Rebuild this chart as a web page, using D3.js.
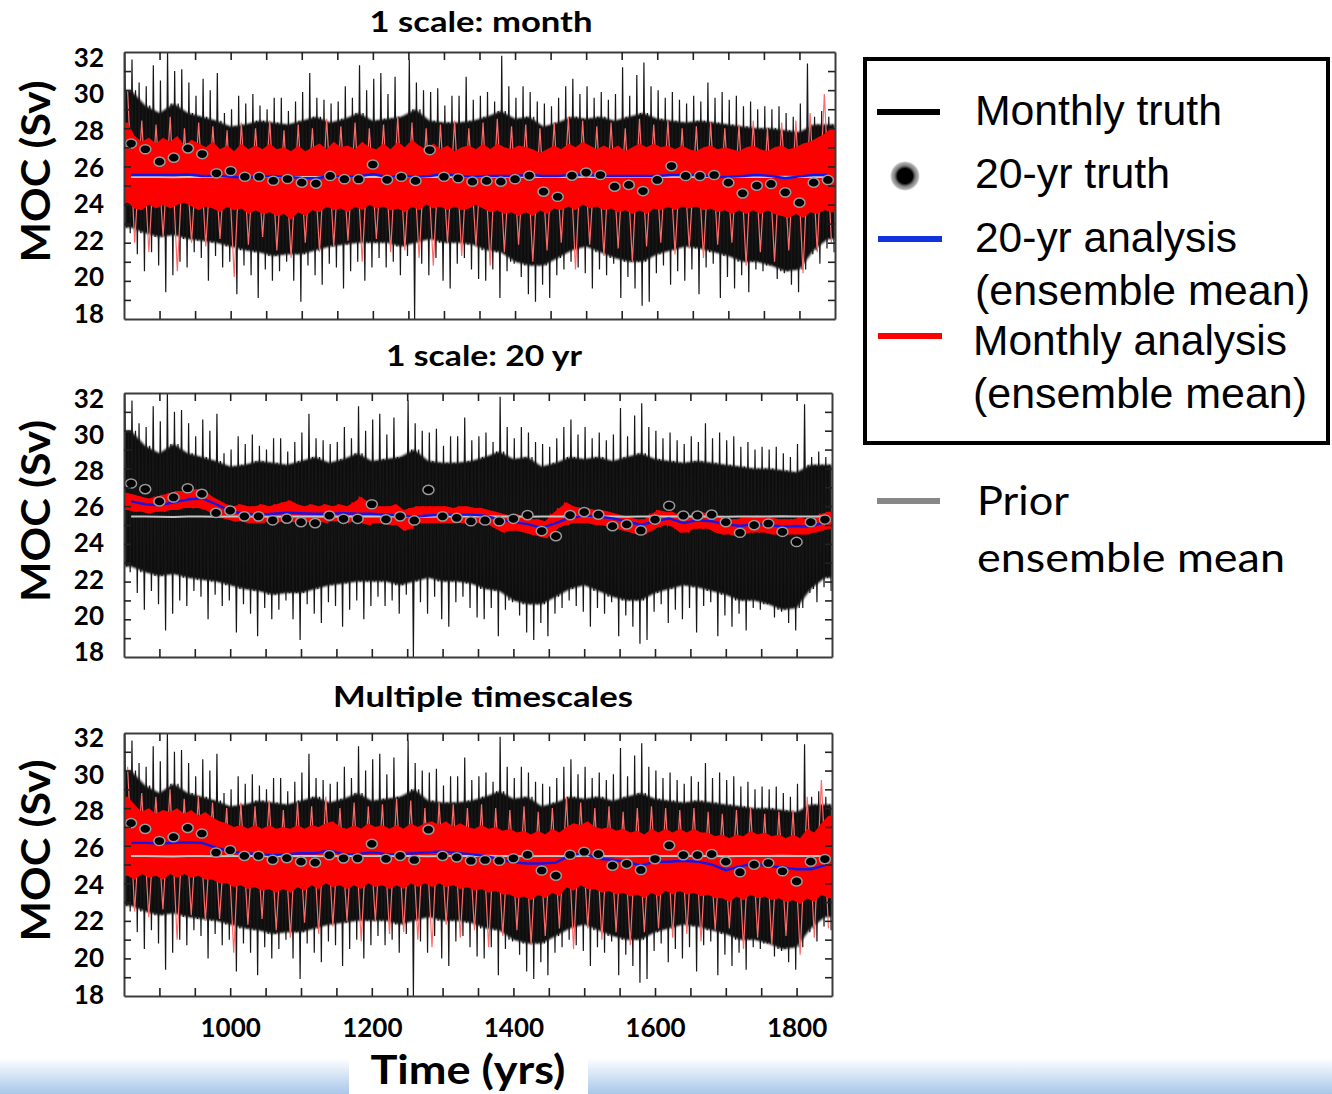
<!DOCTYPE html>
<html>
<head>
<meta charset="utf-8">
<script src="https://cdn.jsdelivr.net/npm/d3@7"></script>
<style>
body { margin: 0; background: #fff; }
</style>
</head>
<body>
<script>
// ---- data (MOC in Sv) ----
// centres of the 20-yr windows and of the decades
var windowYears = d3.range(860, 1841, 20)
var decadeYears = d3.range(855, 1846, 10)

// 20-yr truth (dots), same in every panel
var truth20 = [27.2, 26.9, 26.25, 26.46, 26.95, 26.65, 25.64, 25.76, 25.46, 25.46,
  25.25, 25.34, 25.15, 25.1, 25.5, 25.33, 25.33, 26.1, 25.3, 25.46,
  25.24, 26.86, 25.46, 25.38, 25.2, 25.24, 25.2, 25.33, 25.52, 24.68,
  24.41, 25.52, 25.68, 25.55, 24.94, 25.03, 24.71, 25.29, 26.02, 25.5,
  25.5, 25.55, 25.15, 24.59, 24.99, 25.08, 24.64, 24.1, 25.15, 25.29]

// monthly truth: decadal high and low, and the dense 20-yr range
var truthHi = [32.0, 31.6, 30.4, 30.2, 31.3, 30.5, 32.0, 31.0, 31.1, 30.4,
  29.7, 30.6, 30.0, 30.9, 28.8, 29.0, 29.7, 29.3, 29.8, 29.2,
  29.0, 29.6, 29.6, 28.9, 29.4, 29.9, 30.9, 29.6, 29.5, 29.3,
  29.4, 30.2, 29.6, 31.3, 30.0, 30.6, 30.9, 29.8, 30.7, 28.6,
  31.6, 30.4, 30.0, 29.9, 30.1, 29.2, 29.7, 29.7, 30.7, 29.5,
  29.7, 29.9, 29.4, 31.8, 30.2, 29.6, 30.2, 29.9, 29.4, 29.3,
  29.15, 29.6, 30.2, 30.6, 29.8, 30.2, 29.6, 29.9, 29.5, 29.8,
  31.2, 29.7, 30.8, 31.45, 30.2, 30.0, 29.6, 29.9, 29.5, 29.3,
  29.7, 29.4, 30.4, 29.6, 29.9, 29.5, 29.7, 29.15, 29.4, 29.0,
  29.15, 29.0, 29.15, 28.8, 28.6, 29.3, 31.4, 28.6, 28.9, 28.6]
var truthLo = [22.5, 21.4, 20.5, 21.5, 20.8, 19.4, 20.3, 21.0, 20.7, 21.5,
  21.2, 20.0, 21.3, 20.7, 21.0, 19.3, 20.8, 20.3, 19.1, 20.6,
  20.0, 20.5, 21.0, 20.0, 18.9, 20.8, 20.3, 19.8, 20.9, 20.7,
  19.6, 20.5, 21.0, 20.0, 20.7, 21.2, 20.7, 21.0, 20.3, 21.3,
  18.0, 20.9, 20.3, 21.2, 20.0, 19.6, 20.9, 21.2, 20.6, 20.1,
  20.0, 20.6, 19.1, 20.5, 20.9, 20.2, 19.3, 18.9, 19.8, 19.1,
  20.3, 20.6, 21.0, 20.7, 20.4, 19.6, 20.6, 20.3, 20.9, 19.1,
  20.2, 19.6, 18.7, 18.9, 20.4, 20.8, 19.8, 20.5, 20.0, 20.6,
  19.3, 20.7, 20.9, 19.1, 20.2, 19.6, 20.3, 19.4, 20.6, 20.5,
  20.8, 20.1, 20.4, 19.8, 19.4, 20.6, 21.4, 20.9, 21.7, 21.5]
var truthBandHi = [30.0, 29.2, 28.8, 29.3, 28.8, 28.6, 28.4, 28.1, 28.2, 28.4,
  28.3, 28.2, 28.4, 28.6, 28.3, 28.5, 28.8, 28.4, 28.5, 28.6,
  29.0, 28.4, 28.3, 28.3, 28.4, 28.6, 28.9, 28.5, 28.6, 28.1,
  28.3, 28.6, 28.5, 28.6, 28.4, 28.6, 28.8, 28.5, 28.4, 28.3,
  28.4, 28.3, 28.2, 28.1, 28.0, 28.0, 27.9, 27.8, 28.2, 28.2]
var truthBandLo = [22.8, 22.5, 22.3, 22.4, 22.2, 22.1, 22.0, 21.8, 21.6, 21.5,
  21.3, 21.4, 21.4, 21.6, 21.8, 21.9, 22.0, 22.0, 22.0, 21.8,
  22.0, 22.2, 22.0, 22.0, 21.9, 21.6, 21.5, 21.0, 20.8, 20.8,
  21.2, 21.6, 21.8, 21.5, 21.2, 21.0, 21.0, 21.4, 21.6, 21.8,
  21.7, 21.5, 21.3, 21.0, 21.0, 20.8, 20.5, 20.6, 21.6, 22.2]

// prior ensemble mean
var prior = [25.45, 25.45, 25.44, 25.43, 25.45, 25.45, 25.44, 25.45, 25.45, 25.45,
  25.44, 25.45, 25.45, 25.45, 25.44, 25.45, 25.45, 25.45, 25.46, 25.45,
  25.45, 25.44, 25.45, 25.45, 25.45, 25.46, 25.45, 25.45, 25.44, 25.45,
  25.45, 25.45, 25.46, 25.45, 25.45, 25.44, 25.45, 25.45, 25.45, 25.46,
  25.45, 25.45, 25.44, 25.45, 25.45, 25.45, 25.46, 25.45, 25.45, 25.45]

// 20-yr analysis (ensemble mean) per experiment
var blueMonth = [25.55, 25.55, 25.55, 25.55, 25.58, 25.5, 25.5, 25.45, 25.42, 25.45,
  25.5, 25.45, 25.4, 25.38, 25.5, 25.45, 25.48, 25.6, 25.45, 25.5,
  25.45, 25.5, 25.6, 25.5, 25.45, 25.5, 25.5, 25.5, 25.55, 25.5,
  25.5, 25.55, 25.55, 25.5, 25.5, 25.5, 25.5, 25.5, 25.55, 25.55,
  25.55, 25.45, 25.45, 25.5, 25.55, 25.5, 25.38, 25.48, 25.55, 25.55]
var blue20 = [26.25, 26.1, 26.05, 26.2, 26.35, 26.42, 26.1, 25.75, 25.6, 25.55,
  25.6, 25.65, 25.62, 25.6, 25.6, 25.62, 25.6, 25.6, 25.55, 25.5,
  25.45, 25.5, 25.55, 25.55, 25.55, 25.5, 25.3, 25.15, 25.05, 24.85,
  25.1, 25.4, 25.48, 25.45, 25.35, 25.2, 25.0, 25.2, 25.35, 25.1,
  25.25, 25.2, 25.05, 24.95, 25.05, 25.0, 24.92, 24.95, 24.92, 25.15]
var blueMulti = [26.15, 26.15, 26.12, 26.15, 26.18, 26.15, 25.9, 25.7, 25.6, 25.55,
  25.5, 25.55, 25.6, 25.6, 25.75, 25.55, 25.55, 25.65, 25.55, 25.55,
  25.6, 25.65, 25.7, 25.62, 25.55, 25.45, 25.3, 25.1, 25.05, 25.05,
  25.1, 25.5, 25.6, 25.3, 25.25, 25.15, 24.95, 25.15, 25.15, 25.2,
  25.15, 25.0, 24.7, 24.9, 25.05, 24.9, 24.85, 24.75, 24.75, 24.95]

// monthly analysis, "1 scale: month": dense decadal range and 20-yr high/low
var redMonthBandHi = [28.3, 27.6, 27.3, 27.5, 27.2, 27.5, 27.3, 27.6, 27.1, 27.4,
  27.2, 27.0, 27.3, 26.9, 27.1, 26.8, 27.2, 26.9, 27.1, 26.9,
  27.2, 26.9, 27.0, 26.8, 27.1, 26.8, 27.0, 27.2, 26.9, 27.3,
  27.0, 27.1, 26.9, 27.3, 27.0, 26.9, 27.2, 26.9, 27.3, 27.0,
  27.4, 27.1, 26.9, 27.2, 26.9, 27.1, 26.8, 27.0, 27.1, 26.9,
  27.2, 26.9, 27.2, 27.0, 26.9, 27.1, 27.0, 26.9, 26.7, 26.9,
  27.1, 26.9, 27.2, 27.0, 27.3, 27.1, 26.9, 27.1, 26.9, 27.1,
  26.8, 27.0, 27.2, 27.0, 27.2, 27.0, 27.1, 26.9, 27.1, 26.9,
  26.8, 27.0, 27.1, 26.9, 27.0, 26.9, 26.8, 27.0, 27.1, 26.9,
  26.8, 27.0, 27.1, 26.9, 27.0, 27.2, 27.3, 27.5, 27.7, 28.0]
var redMonthBandLo = [24.1, 23.8, 23.7, 24.0, 23.8, 24.0, 23.8, 24.0, 24.1, 23.9,
  23.7, 23.9, 23.8, 23.6, 23.9, 23.7, 23.8, 23.5, 23.7, 23.5,
  23.6, 23.4, 23.5, 23.2, 23.6, 23.4, 23.7, 23.6, 23.9, 23.7,
  23.8, 23.6, 23.9, 23.7, 24.0, 23.8, 23.9, 23.7, 23.8, 23.6,
  23.9, 23.7, 24.0, 23.8, 23.9, 23.7, 23.9, 23.7, 23.8, 24.0,
  23.8, 23.6, 23.7, 23.5, 23.6, 23.4, 23.6, 23.4, 23.7, 23.5,
  23.8, 23.7, 23.9, 23.7, 24.0, 23.8, 23.9, 23.7, 23.8, 23.6,
  23.7, 23.5, 23.7, 23.5, 23.8, 23.7, 23.9, 23.7, 23.9, 23.8,
  23.9, 23.7, 23.8, 23.6, 23.7, 23.5, 23.7, 23.5, 23.7, 23.5,
  23.7, 23.5, 23.4, 23.3, 23.5, 23.3, 23.6, 23.5, 23.7, 23.6]
var redMonthHi = [30.0, 28.4, 28.2, 28.6, 28.0, 28.3, 28.1, 27.9, 28.3, 28.0,
  28.4, 27.9, 28.2, 28.0, 28.5, 28.1, 28.3, 28.0, 28.2, 28.6,
  28.3, 28.0, 28.2, 28.4, 28.0, 28.3, 28.5, 28.1, 28.2, 28.0,
  28.3, 28.6, 28.4, 28.1, 28.3, 28.0, 28.5, 28.2, 28.4, 28.0,
  28.1, 28.3, 28.0, 28.2, 28.4, 28.0, 28.3, 28.4, 28.8, 29.8]
var redMonthLo = [22.0, 21.5, 22.3, 20.5, 22.0, 21.8, 22.2, 20.2, 21.9, 22.3,
  21.6, 21.2, 22.0, 21.5, 21.8, 22.1, 21.0, 22.2, 21.5, 21.6,
  21.2, 20.8, 22.0, 21.3, 21.8, 20.8, 21.5, 21.9, 21.0, 21.6,
  22.0, 20.6, 21.9, 21.3, 21.7, 21.0, 21.8, 22.0, 21.4, 21.7,
  21.2, 21.9, 22.0, 20.8, 21.5, 21.0, 21.6, 20.4, 21.5, 22.0]

// monthly analysis, "1 scale: 20 yr": decadal high and low
var red20Hi = [26.7, 26.6, 26.5, 26.4, 26.5, 26.6, 26.7, 26.8, 26.8, 26.9,
  26.9, 26.8, 26.5, 26.3, 26.1, 26.0, 26.1, 26.0, 26.0, 26.1,
  26.0, 26.1, 26.2, 26.3, 26.1, 26.0, 26.1, 26.0, 26.1, 26.0,
  26.1, 26.0, 26.2, 26.5, 26.2, 26.0, 26.0, 26.0, 26.1, 25.8,
  25.9, 26.0, 26.0, 26.0, 26.0, 26.0, 25.9, 26.0, 26.0, 25.9,
  25.9, 25.8, 25.7, 25.6, 25.5, 25.6, 25.4, 25.3, 25.3, 25.2,
  25.6, 25.9, 26.2, 26.0, 25.9, 25.9, 25.8, 25.8, 25.7, 25.6,
  25.5, 25.4, 25.3, 25.3, 25.6, 25.8, 25.7, 25.7, 25.5, 25.4,
  25.6, 25.7, 25.6, 25.5, 25.4, 25.3, 25.3, 25.4, 25.4, 25.5,
  25.4, 25.4, 25.3, 25.3, 25.3, 25.4, 25.3, 25.4, 25.6, 25.7]
var red20Lo = [25.8, 25.7, 25.7, 25.6, 25.7, 25.7, 25.8, 25.8, 25.9, 25.9,
  25.9, 25.8, 25.6, 25.4, 25.3, 25.2, 25.2, 25.1, 25.1, 25.1,
  25.2, 25.1, 25.2, 25.2, 25.1, 25.2, 25.1, 25.2, 25.1, 25.2,
  25.2, 25.1, 25.2, 25.1, 25.0, 25.1, 25.1, 25.0, 25.0, 24.7,
  24.8, 25.1, 25.1, 25.1, 25.1, 25.1, 25.1, 25.1, 25.1, 25.1,
  25.1, 25.0, 24.8, 24.6, 24.7, 24.7, 24.6, 24.5, 24.4, 24.3,
  24.5, 24.9, 25.0, 25.1, 25.1, 25.1, 25.0, 25.0, 24.9, 24.8,
  24.7, 24.6, 24.5, 24.5, 24.7, 24.9, 25.0, 24.9, 24.6, 24.6,
  24.8, 24.8, 24.8, 24.6, 24.5, 24.5, 24.4, 24.5, 24.6, 24.6,
  24.6, 24.5, 24.5, 24.5, 24.5, 24.5, 24.5, 24.6, 24.7, 24.8]

// monthly analysis, "Multiple timescales"
var redMultiBandHi = [28.6, 28.2, 27.8, 28.0, 27.7, 27.9, 27.8, 28.0, 27.7, 27.9,
  27.6, 27.8, 27.5, 27.3, 27.2, 27.0, 27.1, 26.9, 27.1, 26.9,
  27.1, 26.9, 27.0, 26.9, 27.1, 26.9, 27.1, 27.0, 27.2, 27.3,
  27.0, 26.9, 27.1, 26.9, 27.2, 27.0, 27.1, 26.9, 27.1, 26.9,
  27.2, 27.0, 27.2, 27.3, 27.1, 27.3, 27.0, 27.2, 27.0, 26.9,
  27.1, 26.9, 27.0, 26.8, 26.9, 26.7, 26.8, 26.6, 26.8, 26.6,
  26.9, 26.7, 27.0, 27.2, 27.1, 27.3, 27.0, 26.9, 27.0, 26.8,
  26.9, 26.7, 26.8, 26.6, 26.9, 26.7, 26.9, 26.7, 26.9, 26.7,
  26.9, 26.7, 26.7, 26.5, 26.6, 26.4, 26.6, 26.5, 26.8, 26.6,
  26.7, 26.5, 26.6, 26.4, 26.6, 26.4, 26.9, 26.7, 27.2, 27.6]
var redMultiBandLo = [24.4, 24.2, 24.5, 24.3, 24.4, 24.2, 24.5, 24.3, 24.5, 24.3,
  24.4, 24.2, 24.2, 24.0, 24.0, 23.8, 23.9, 23.7, 23.8, 23.6,
  23.7, 23.5, 23.7, 23.5, 23.8, 23.6, 23.9, 23.7, 24.0, 23.8,
  23.9, 23.7, 23.9, 23.7, 24.0, 23.8, 23.9, 23.7, 23.9, 23.7,
  24.0, 23.8, 24.0, 23.8, 24.0, 23.8, 23.9, 23.7, 23.8, 23.6,
  23.7, 23.5, 23.6, 23.4, 23.4, 23.2, 23.3, 23.1, 23.4, 23.2,
  23.5, 23.3, 23.8, 23.6, 23.9, 23.7, 23.7, 23.5, 23.6, 23.4,
  23.5, 23.3, 23.4, 23.2, 23.5, 23.3, 23.6, 23.4, 23.6, 23.4,
  23.5, 23.3, 23.4, 23.2, 23.2, 23.0, 23.3, 23.1, 23.4, 23.2,
  23.3, 23.1, 23.2, 23.0, 23.1, 22.9, 23.2, 23.0, 23.4, 23.2]
var redMultiHi = [30.2, 28.8, 28.6, 29.0, 28.5, 28.6, 28.3, 28.0, 28.3, 28.1,
  28.4, 27.9, 28.3, 28.1, 28.6, 28.0, 28.3, 28.1, 28.2, 28.5,
  28.4, 28.0, 28.3, 28.2, 28.0, 28.2, 28.0, 27.9, 28.1, 27.8,
  28.0, 28.6, 28.3, 28.0, 28.1, 27.8, 28.0, 28.1, 28.0, 27.9,
  28.0, 27.8, 27.7, 27.9, 28.0, 27.7, 27.8, 27.9, 28.6, 29.5]
var redMultiLo = [22.5, 22.2, 22.6, 21.0, 22.3, 22.0, 22.1, 20.3, 21.8, 22.1,
  21.5, 21.1, 21.9, 21.3, 21.7, 22.0, 20.9, 22.0, 21.3, 21.4,
  21.0, 20.6, 21.8, 21.1, 21.5, 20.6, 21.2, 21.5, 20.7, 21.2,
  21.6, 20.5, 21.6, 21.0, 21.4, 20.7, 21.4, 21.6, 21.1, 21.3,
  20.9, 21.5, 21.6, 20.5, 21.1, 20.7, 21.2, 20.2, 21.1, 21.6]

var xTickLabels = [1000, 1200, 1400, 1600, 1800]
var yTickLabels = [18, 20, 22, 24, 26, 28, 30, 32]

// ---- layout ----
var panels = [
  {title: "1 scale: month", titleX: 481, titleY: 32, titleW: 223, top: 52, bottom: 319, right: 835,
    labTop: 57, labBottom: 313, blue: blueMonth, red: "band", bandHi: redMonthBandHi, bandLo: redMonthBandLo, hi: redMonthHi, lo: redMonthLo},
  {title: "1 scale: 20 yr", titleX: 484, titleY: 366, titleW: 196, top: 393, bottom: 657, right: 832,
    labTop: 398, labBottom: 651, blue: blue20, red: "narrow", hi: red20Hi, lo: red20Lo},
  {title: "Multiple timescales", titleX: 483, titleY: 707, titleW: 300, top: 733, bottom: 996, right: 832,
    labTop: 737, labBottom: 994, blue: blueMulti, red: "band", bandHi: redMultiBandHi, bandLo: redMultiBandLo, hi: redMultiHi, lo: redMultiLo}
]
var left = 124
var boldFont = "Lato, 'Open Sans', sans-serif"

var svg = d3.select("body").append("svg")
  .attr("width", 1332)
  .attr("height", 1094)
var defs = svg.append("defs")

// light blue band at the very bottom of the slide
var grad = defs.append("linearGradient").attr("id", "slideBand")
  .attr("x1", 0).attr("y1", 0).attr("x2", 0).attr("y2", 1)
grad.append("stop").attr("offset", "0%").attr("stop-color", "#ffffff")
grad.append("stop").attr("offset", "100%").attr("stop-color", "#a8c7e9")
svg.append("rect").attr("x", 0).attr("y", 1058).attr("width", 1332).attr("height", 36).attr("fill", "url(#slideBand)")
svg.append("rect").attr("x", 349).attr("y", 1052).attr("width", 239).attr("height", 42).attr("fill", "#fff")

// soft edge for the dense part of the monthly traces
defs.append("filter").attr("id", "soft").append("feGaussianBlur").attr("stdDeviation", 0.8)

// zigzag through alternating high / low values
function zigzag(years, hi, lo, half) {
  var pts = []
  years.forEach(function(yr, i) {
    pts.push([yr - half, hi[i]])
    pts.push([yr + half, lo[i]])
  })
  return pts
}
// monthly truth trace: per decade a peak, the dense range, and a trough
function truthTrace() {
  var pts = []
  decadeYears.forEach(function(yr, i) {
    var j = Math.floor(i / 2)
    pts.push([yr - 3.75, truthHi[i]])
    pts.push([yr - 1.25, truthBandLo[j]])
    pts.push([yr + 1.25, truthBandHi[j]])
    pts.push([yr + 3.75, truthLo[i]])
  })
  return pts
}
// range band, held flat out to the ends of the axis
function band(years, hi, lo) {
  var pts = years.map(function(yr, i) { return {x: yr, hi: hi[i], lo: lo[i]} })
  pts.unshift({x: 850, hi: hi[0], lo: lo[0]})
  pts.push({x: 1850, hi: hi[hi.length - 1], lo: lo[lo.length - 1]})
  return pts
}

panels.forEach(function(p, k) {
  var x = d3.scaleLinear().domain([850, 1850]).range([left, p.right])
  var y = d3.scaleLinear().domain([18, 32]).range([p.bottom, p.top])
  var yLab = d3.scaleLinear().domain([18, 32]).range([p.labBottom, p.labTop])

  defs.append("clipPath").attr("id", "clip" + k).append("rect")
    .attr("x", left).attr("y", p.top).attr("width", p.right - left).attr("height", p.bottom - p.top)

  var plot = svg.append("g").attr("clip-path", "url(#clip" + k + ")")
  var area = d3.area().x(function(d) { return x(d.x) }).y0(function(d) { return y(d.lo) }).y1(function(d) { return y(d.hi) })
  var line = d3.line().x(function(d) { return x(d[0]) }).y(function(d) { return y(d[1]) })

  // monthly truth
  plot.append("path").datum(band(windowYears, truthBandHi, truthBandLo)).attr("d", area)
    .attr("fill", "#000").attr("fill-opacity", 0.95).attr("filter", "url(#soft)")
  plot.append("path").datum(truthTrace()).attr("d", line)
    .attr("fill", "none").attr("stroke", "#161616").attr("stroke-width", 1.2).attr("stroke-linejoin", "bevel")

  // monthly analysis
  if (p.red == "band") {
    plot.append("path").datum(zigzag(windowYears, p.hi, p.lo, 5)).attr("d", line)
      .attr("fill", "none").attr("stroke", "#ff6a6a").attr("stroke-width", 1.2)
    plot.append("path").datum(band(decadeYears, p.bandHi, p.bandLo)).attr("d", area).attr("fill", "#ff0000")
  } else {
    plot.append("path").datum(band(decadeYears, p.hi, p.lo)).attr("d", area).attr("fill", "#ff0000")
    plot.append("path").datum(zigzag(decadeYears, p.hi, p.lo, 2.5)).attr("d", line)
      .attr("fill", "none").attr("stroke", "#ff0000").attr("stroke-width", 1.5)
  }

  // prior, 20-yr analysis, 20-yr truth
  plot.append("path").datum(windowYears.map(function(yr, i) { return [yr, prior[i]] })).attr("d", line)
    .attr("fill", "none").attr("stroke", "#c4c4c4").attr("stroke-width", 2)
  plot.append("path").datum(windowYears.map(function(yr, i) { return [yr, p.blue[i]] })).attr("d", line)
    .attr("fill", "none").attr("stroke", "#1515e6").attr("stroke-width", 2.4)
  plot.selectAll("ellipse").data(truth20).enter().append("ellipse")
    .attr("cx", function(d, i) { return x(windowYears[i]) })
    .attr("cy", function(d) { return y(d) })
    .attr("rx", 5.5).attr("ry", 4.6)
    .attr("fill", "#000").attr("stroke", "#9a9a9a").attr("stroke-width", 1.5)

  // frame with inward ticks
  var frame = svg.append("g")
  frame.append("g").attr("transform", "translate(0," + p.top + ")")
    .call(d3.axisTop(x).tickValues(d3.range(900, 1801, 50)).tickSize(-8).tickSizeOuter(0).tickFormat(""))
  frame.append("g").attr("transform", "translate(0," + p.bottom + ")")
    .call(d3.axisBottom(x).tickValues(d3.range(900, 1801, 50)).tickSize(-8).tickSizeOuter(0).tickFormat(""))
  frame.append("g").attr("transform", "translate(" + left + ",0)")
    .call(d3.axisLeft(y).tickValues(d3.range(19, 32, 1)).tickSize(-7).tickSizeOuter(0).tickFormat(""))
  frame.append("g").attr("transform", "translate(" + p.right + ",0)")
    .call(d3.axisRight(y).tickValues(d3.range(19, 32, 1)).tickSize(-7).tickSizeOuter(0).tickFormat(""))
  frame.selectAll(".domain").attr("stroke", "#3c3c3c").attr("stroke-width", 2)
  frame.selectAll(".tick line").attr("stroke", "#222").attr("stroke-width", 1.6)

  // y tick labels
  var yl = svg.append("g").attr("transform", "translate(104,0)")
    .call(d3.axisLeft(yLab).tickValues(yTickLabels).tickSize(0).tickPadding(0))
  yl.select(".domain").remove()
  yl.selectAll("text").attr("font-family", boldFont).attr("font-weight", "bold")
    .attr("font-size", 26).attr("fill", "#000").attr("dy", "0.36em")

  // titles
  svg.append("text").attr("x", p.titleX).attr("y", p.titleY).text(p.title)
    .attr("text-anchor", "middle").attr("font-family", boldFont).attr("font-weight", "bold")
    .attr("font-size", 29).attr("textLength", p.titleW).attr("lengthAdjust", "spacingAndGlyphs")

  svg.append("text").attr("transform", "translate(50," + ((p.top + p.bottom) / 2 - 14) + ") rotate(-90)")
    .text("MOC (Sv)").attr("text-anchor", "middle").attr("font-family", boldFont).attr("font-weight", "bold")
    .attr("font-size", 40).attr("textLength", 182).attr("lengthAdjust", "spacingAndGlyphs")

  if (k == 2) {
    var xl = svg.append("g").attr("transform", "translate(0,1019)")
      .call(d3.axisBottom(x).tickValues(xTickLabels).tickSize(0).tickPadding(0).tickFormat(d3.format("d")))
    xl.select(".domain").remove()
    xl.selectAll("text").attr("font-family", boldFont).attr("font-weight", "bold")
      .attr("font-size", 26).attr("fill", "#000")
  }
})

svg.append("text").attr("x", 468).attr("y", 1084).text("Time (yrs)")
  .attr("text-anchor", "middle").attr("font-family", boldFont).attr("font-weight", "bold")
  .attr("font-size", 40).attr("textLength", 195).attr("lengthAdjust", "spacingAndGlyphs")

// ---- legend ----
var legendFont = "'Liberation Sans', Arial, sans-serif"
svg.append("rect").attr("x", 865).attr("y", 59).attr("width", 463).attr("height", 384)
  .attr("fill", "#fff").attr("stroke", "#000").attr("stroke-width", 4)

var dotGrad = defs.append("radialGradient").attr("id", "dotGrad")
dotGrad.append("stop").attr("offset", "0%").attr("stop-color", "#000")
dotGrad.append("stop").attr("offset", "50%").attr("stop-color", "#000")
dotGrad.append("stop").attr("offset", "68%").attr("stop-color", "#7a7a7a")
dotGrad.append("stop").attr("offset", "88%").attr("stop-color", "#b0b0b0")
dotGrad.append("stop").attr("offset", "100%").attr("stop-color", "#fff")

svg.append("line").attr("x1", 877).attr("x2", 940).attr("y1", 112).attr("y2", 112).attr("stroke", "#000").attr("stroke-width", 6)
svg.append("circle").attr("cx", 905).attr("cy", 176).attr("r", 15).attr("fill", "url(#dotGrad)")
svg.append("line").attr("x1", 878).attr("x2", 942).attr("y1", 239).attr("y2", 239).attr("stroke", "#1133dd").attr("stroke-width", 6)
svg.append("line").attr("x1", 878).attr("x2", 942).attr("y1", 336).attr("y2", 336).attr("stroke", "#ff0000").attr("stroke-width", 6)
svg.append("line").attr("x1", 877).attr("x2", 940).attr("y1", 501).attr("y2", 501).attr("stroke", "#888").attr("stroke-width", 6)

function legendText(tx, ty, s, w) {
  svg.append("text").attr("x", tx).attr("y", ty).text(s)
    .attr("font-family", legendFont).attr("font-size", 42).attr("fill", "#000")
    .attr("textLength", w).attr("lengthAdjust", "spacingAndGlyphs")
}
legendText(975, 125, "Monthly truth", 247)
legendText(975, 188, "20-yr truth", 195)
legendText(975, 252, "20-yr analysis", 262)
legendText(975, 305, "(ensemble mean)", 335)
legendText(973, 355, "Monthly analysis", 314)
legendText(973, 408, "(ensemble mean)", 334)

svg.append("text").attr("x", 977).attr("y", 515).text("Prior")
  .attr("font-family", boldFont).attr("font-size", 40).attr("textLength", 92).attr("lengthAdjust", "spacingAndGlyphs")
svg.append("text").attr("x", 977).attr("y", 572).text("ensemble mean")
  .attr("font-family", boldFont).attr("font-size", 40).attr("textLength", 308).attr("lengthAdjust", "spacingAndGlyphs")
</script>
</body>
</html>
